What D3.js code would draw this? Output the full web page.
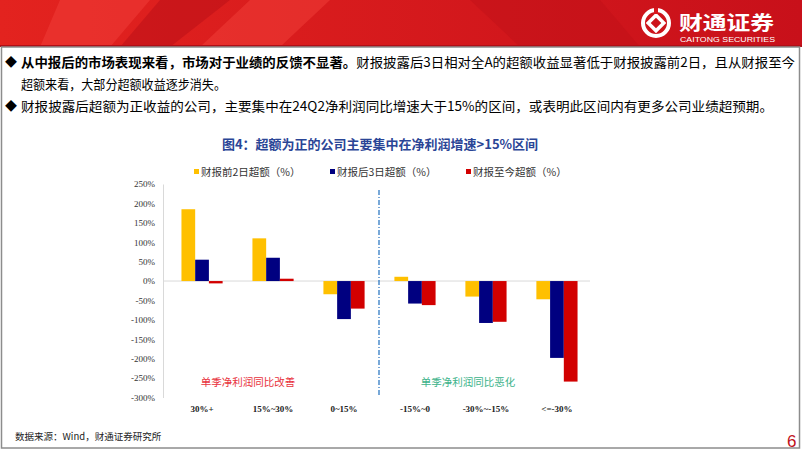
<!DOCTYPE html>
<html>
<head>
<meta charset="utf-8">
<script src="https://d3js.org/d3.v7.min.js"></script>
<style>
  body { margin: 0; background: #fff; }
  svg { display: block; }
  .cn { font-family: "Noto Sans CJK SC", "Noto Sans", sans-serif; }
  .serif { font-family: "Liberation Serif", "DejaVu Serif", serif; }
</style>
</head>
<body>
<svg width="802" height="451"></svg>
<script>
// data
const categories = ["30%+", "15%~30%", "0~15%", "-15%~0", "-30%~-15%", "<=-30%"];
const seriesNames = ["财报前2日超额（%）", "财报后3日超额（%）", "财报至今超额（%）"];
const pre2d = [185, 110, -34, 11, -40, -47];
const post3d = [55, 60, -98, -58, -108, -198];
const toDate = [-6, 6, -71, -62, -105, -259];
const yTicks = [250, 200, 150, 100, 50, 0, -50, -100, -150, -200, -250, -300];
const colors = ["#FFC000", "#000080", "#D20000"];

const series = [pre2d, post3d, toDate];
const svg = d3.select("svg");

// ---- header banner
const hdr = svg.append("g");
const grad = svg.append("defs").append("linearGradient").attr("id", "hg")
  .attr("x1", 0).attr("x2", 1).attr("y1", 0).attr("y2", 0);
grad.append("stop").attr("offset", 0).attr("stop-color", "#e3231f");
grad.append("stop").attr("offset", 1).attr("stop-color", "#c8101a");
hdr.append("rect").attr("x", 0).attr("y", 0).attr("width", 802).attr("height", 47).attr("fill", "url(#hg)");
hdr.append("path").attr("d", "M60,0 L150,0 L110,47 L40,47 Z").attr("fill", "#ef3a35").attr("opacity", 0.6);
hdr.append("path").attr("d", "M160,0 L230,0 L170,47 L120,47 Z").attr("fill", "#b80d15").attr("opacity", 0.5);
hdr.append("path").attr("d", "M250,0 L330,0 L280,47 L200,47 Z").attr("fill", "#f2403a").attr("opacity", 0.5);
hdr.append("path").attr("d", "M470,0 L600,0 L640,47 L520,47 Z").attr("fill", "#b90e17").attr("opacity", 0.35);
hdr.append("rect").attr("x", 0).attr("y", 45).attr("width", 802).attr("height", 2).attr("fill", "#b00e16");
// logo
const logo = hdr.append("g").attr("transform", "translate(656,23)");
logo.append("circle").attr("r", 13).attr("fill", "none").attr("stroke", "#fff").attr("stroke-width", 4);
logo.append("rect").attr("x", -5.5).attr("y", -5.5).attr("width", 11).attr("height", 11)
  .attr("transform", "rotate(45)").attr("fill", "none").attr("stroke", "#fff").attr("stroke-width", 3.5);
logo.append("rect").attr("x", -2).attr("y", -15).attr("width", 4).attr("height", 6).attr("fill", "#d8171d");
hdr.append("text").attr("class", "cn").attr("x", 679).attr("y", 30)
  .attr("font-size", 19).attr("font-weight", "bold").attr("fill", "#fff")
  .attr("textLength", 95).attr("lengthAdjust", "spacingAndGlyphs").text("财通证券");
hdr.append("text").attr("x", 680).attr("y", 42).attr("font-family", "Liberation Sans, sans-serif")
  .attr("font-size", 8).attr("fill", "#fff")
  .attr("textLength", 95).attr("lengthAdjust", "spacingAndGlyphs").text("CAITONG SECURITIES");

// ---- frame
svg.append("rect").attr("x", 1.5).attr("y", 47).attr("width", 798).attr("height", 401)
  .attr("fill", "none").attr("stroke", "#8c8c8c").attr("stroke-width", 1.5);

// ---- bullet text
const txt = svg.append("g").attr("class", "cn").attr("font-size", 13).attr("fill", "#000");
txt.append("text").attr("x", 5).attr("y", 67).attr("font-size", 12).text("◆");
txt.append("text").attr("x", 5).attr("y", 111).attr("font-size", 12).text("◆");
const l1 = txt.append("text").attr("x", 21).attr("y", 67)
  .attr("textLength", 774).attr("lengthAdjust", "spacingAndGlyphs");
l1.append("tspan").attr("font-weight", "bold").text("从中报后的市场表现来看，市场对于业绩的反馈不显著。");
l1.append("tspan").text("财报披露后3日相对全A的超额收益显著低于财报披露前2日，且从财报至今");
txt.append("text").attr("x", 21).attr("y", 89)
  .attr("textLength", 205).attr("lengthAdjust", "spacingAndGlyphs").text("超额来看，大部分超额收益逐步消失。");
txt.append("text").attr("x", 21).attr("y", 111)
  .attr("textLength", 752).attr("lengthAdjust", "spacingAndGlyphs")
  .text("财报披露后超额为正收益的公司，主要集中在24Q2净利润同比增速大于15%的区间，或表明此区间内有更多公司业绩超预期。");

// ---- chart title
svg.append("text").attr("class", "cn").attr("x", 380).attr("y", 149).attr("text-anchor", "middle")
  .attr("font-size", 13).attr("font-weight", "bold").attr("fill", "#2a4596")
  .text("图4：超额为正的公司主要集中在净利润增速>15%区间");

// ---- legend
const legX = [194, 330, 466];
seriesNames.forEach((n, i) => {
  svg.append("rect").attr("x", legX[i]).attr("y", 169).attr("width", 5).attr("height", 5).attr("fill", colors[i]);
  svg.append("text").attr("class", "cn").attr("x", legX[i] + 7).attr("y", 176)
    .attr("font-size", 10.5).attr("fill", "#333").text(n);
});

// ---- scales
const y = d3.scaleLinear().domain([-300, 250]).range([397.5, 184]);
const x0 = d3.scaleBand().domain(categories).range([163, 596]).paddingInner(0.42).paddingOuter(0.26);
const x1 = d3.scaleBand().domain(d3.range(3)).range([0, x0.bandwidth()]);

// y axis
const yAxis = d3.axisLeft(y).tickValues(yTicks).tickFormat(d => d + "%").tickSize(0).tickPadding(8);
const ga = svg.append("g").attr("transform", "translate(163,0)").call(yAxis);
ga.select(".domain").attr("stroke", "#d9d9d9");
ga.selectAll("text").attr("class", "serif").attr("font-size", 9).attr("fill", "#333");

// zero line
svg.append("line").attr("x1", 163).attr("x2", 590).attr("y1", y(0)).attr("y2", y(0))
  .attr("stroke", "#d9d9d9").attr("stroke-width", 1);

// bars
const groups = svg.selectAll("g.grp").data(categories).join("g").attr("class", "grp")
  .attr("transform", d => `translate(${x0(d)},0)`);
groups.selectAll("rect").data((d, ci) => series.map((s, si) => ({ si, v: s[ci] }))).join("rect")
  .attr("x", d => x1(d.si))
  .attr("width", x1.bandwidth())
  .attr("y", d => y(Math.max(0, d.v)))
  .attr("height", d => Math.abs(y(d.v) - y(0)))
  .attr("fill", d => colors[d.si]);

// category labels
svg.selectAll("text.cat").data(categories).join("text").attr("class", "cat serif")
  .attr("x", d => x0(d) + x0.bandwidth() / 2).attr("y", 412)
  .attr("text-anchor", "middle").attr("font-size", 9).attr("font-weight", "bold").attr("fill", "#222")
  .text(d => d);

// divider
svg.append("line").attr("x1", 379).attr("x2", 379).attr("y1", 190).attr("y2", 395)
  .attr("stroke", "#1f6fbf").attr("stroke-width", 1.2).attr("stroke-dasharray", "5,2,1,2");

// annotations
svg.append("text").attr("class", "cn").attr("x", 248).attr("y", 386).attr("text-anchor", "middle")
  .attr("font-size", 10.5).attr("fill", "#e8323c").text("单季净利润同比改善");
svg.append("text").attr("class", "cn").attr("x", 468).attr("y", 386).attr("text-anchor", "middle")
  .attr("font-size", 10.5).attr("fill", "#3cb38a").text("单季净利润同比恶化");

// footer
svg.append("text").attr("class", "cn").attr("x", 15).attr("y", 440).attr("font-size", 9.5).attr("fill", "#222")
  .text("数据来源：Wind，财通证券研究所");
svg.append("text").attr("x", 787).attr("y", 447).attr("font-family", "Liberation Sans, sans-serif")
  .attr("font-size", 17).attr("fill", "#c0101a").text("6");
</script>
</body>
</html>
